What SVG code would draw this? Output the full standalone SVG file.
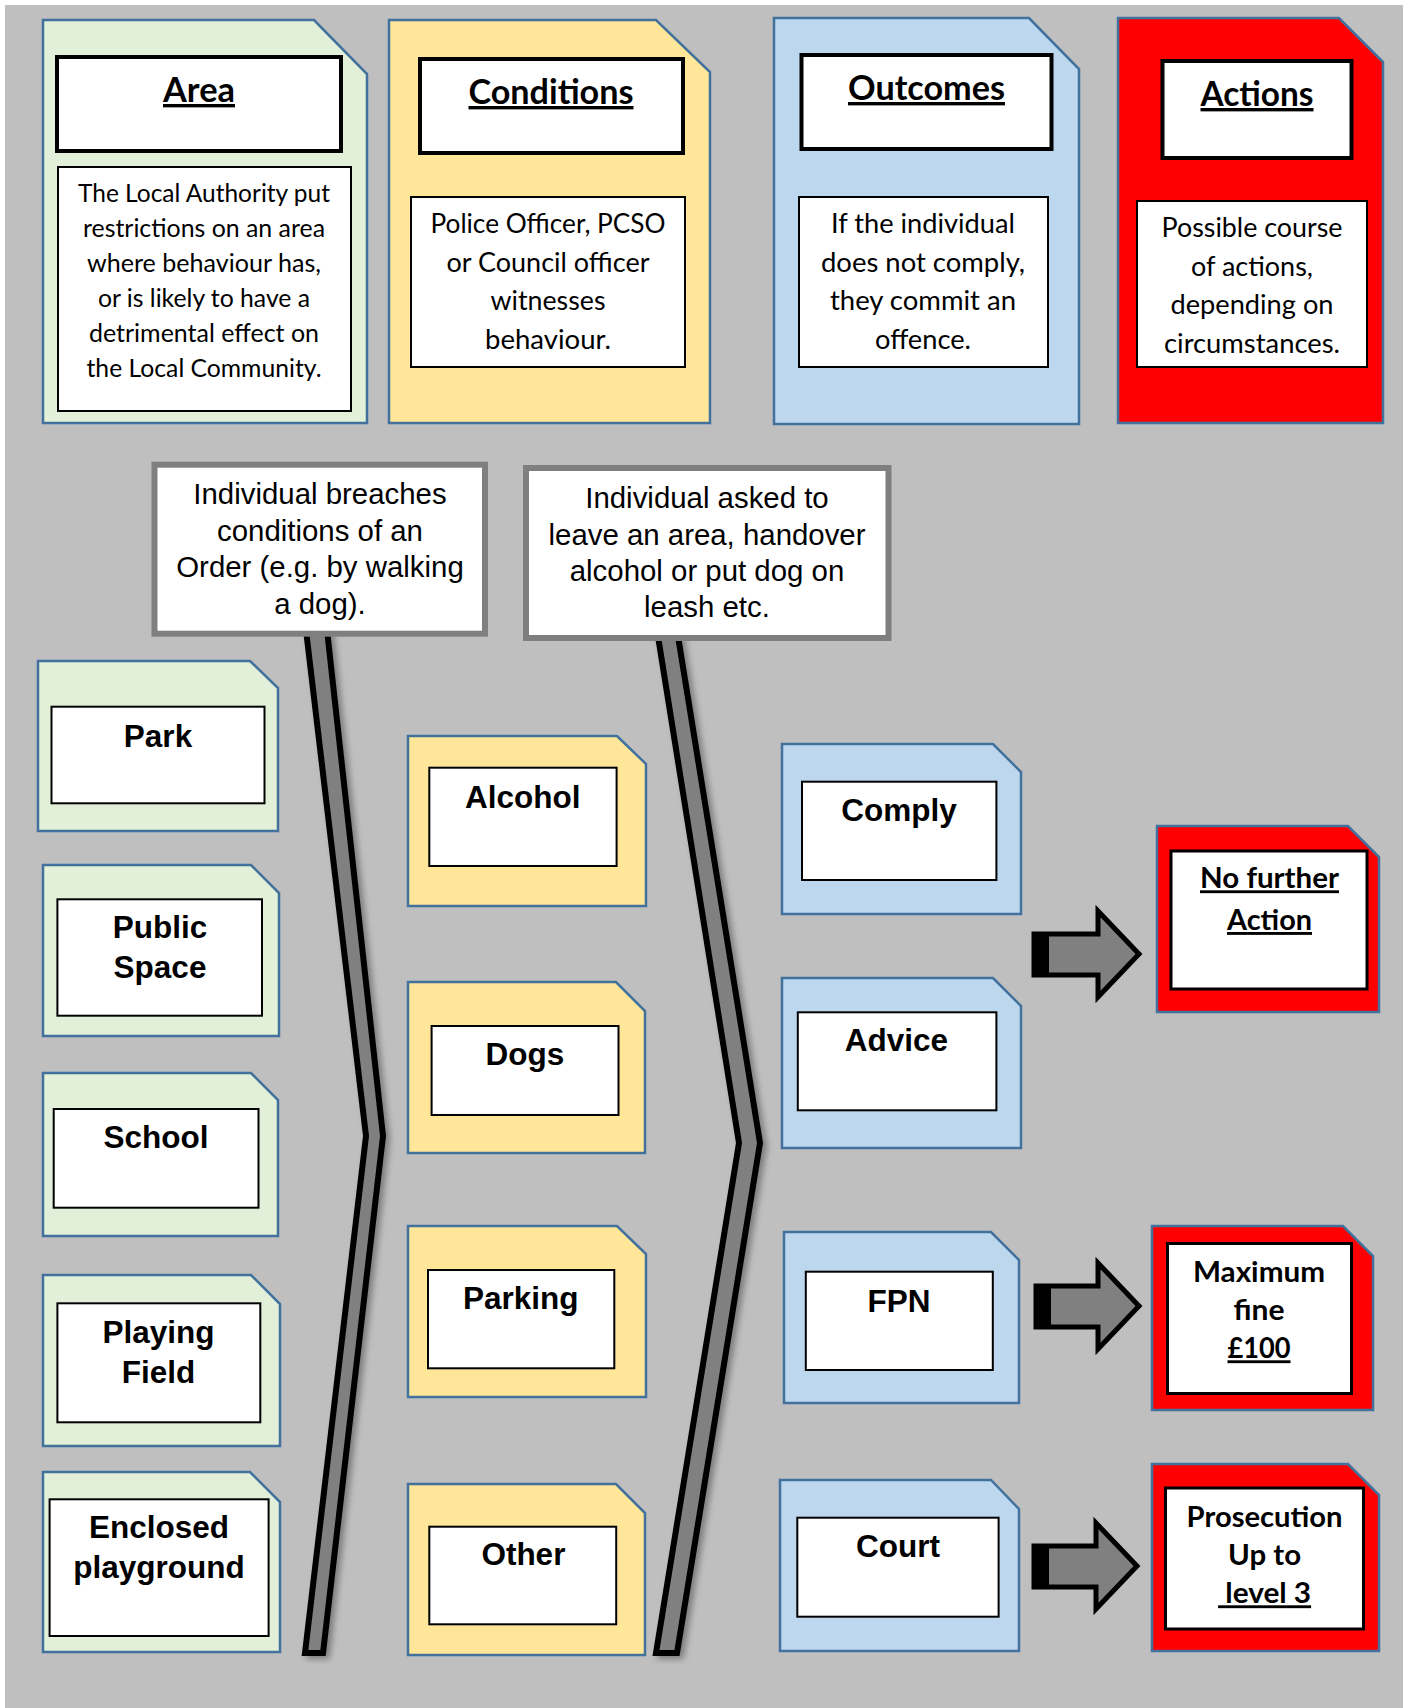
<svg xmlns="http://www.w3.org/2000/svg" width="1403" height="1708" viewBox="0 0 1403 1708">
<style>
.cg{fill:#E2F0D9;stroke:#41719C;stroke-width:2.5}
.cy{fill:#FFE699;stroke:#41719C;stroke-width:2.5}
.cb{fill:#BDD7EE;stroke:#41719C;stroke-width:2.5}
.cr{fill:#FF0000;stroke:#41719C;stroke-width:2.5}
.box{fill:#fff;stroke:#000;stroke-width:2}
.rbox{fill:#fff;stroke:#000;stroke-width:3}
.tbox{fill:#fff;stroke:#000;stroke-width:4}
.gbox{fill:#fff;stroke:#7F7F7F;stroke-width:6}
.lbl{font-family:"Liberation Sans",Arial,sans-serif;font-weight:bold;font-size:31.5px;text-anchor:middle;fill:#000}
.note{font-family:"Liberation Sans",Arial,sans-serif;font-size:29.4px;text-anchor:middle;fill:#000}
.title{font-family:Lato,"Open Sans",sans-serif;font-weight:bold;font-size:33.7px;text-anchor:middle;text-decoration:underline;fill:#000}
.desc{font-family:Lato,"Open Sans",sans-serif;font-size:26.4px;text-anchor:middle;fill:#000}
.descs{font-size:24.1px}
.act{font-family:Lato,"Open Sans",sans-serif;font-weight:bold;font-size:28.7px;text-anchor:middle;fill:#000}
.u{text-decoration:underline}
.chev{fill:#808080;stroke:#000;stroke-width:6;stroke-linejoin:miter;stroke-miterlimit:10}
.arr{fill:#808080;stroke:#000;stroke-width:5;stroke-linejoin:miter;stroke-miterlimit:10}
</style>
<defs>
<filter id="sh" x="-20%" y="-5%" width="150%" height="110%">
<feDropShadow dx="4" dy="3" stdDeviation="3" flood-color="#000" flood-opacity="0.35"/>
</filter>
</defs>
<rect x="0" y="0" width="1403" height="1708" fill="#fff"/>
<rect x="5" y="5" width="1398" height="1703" fill="#BFBFBF"/>

<g id="connectors">
<polygon class="chev" filter="url(#sh)" points="306,630 366,1136 305,1653 323,1653 383,1136 327,630"/>
<polygon class="chev" filter="url(#sh)" points="657,630 739,1143 656,1653 677,1653 760,1143 677,630"/>
<g id="arrow1"><polygon class="arr" points="1034,934 1098,934 1098,911 1139,954 1098,997 1098,975 1034,975"/><rect x="1032" y="932" width="17" height="45" fill="#000"/></g>
<g id="arrow2"><polygon class="arr" points="1036,1286 1098,1286 1098,1263 1139,1306 1098,1349 1098,1327 1036,1327"/><rect x="1034" y="1284" width="17" height="45" fill="#000"/></g>
<g id="arrow3"><polygon class="arr" points="1034,1546 1096,1546 1096,1523 1137,1566 1096,1609 1096,1587 1034,1587"/><rect x="1032" y="1544" width="17" height="45" fill="#000"/></g>
</g>

<g id="area">
<path class="cg" d="M43 20 H314 L367 74 V423 H43 Z"/>
<rect class="tbox" x="57" y="57" width="284" height="94"/>
<text class="title" x="199" y="102" textLength="72" lengthAdjust="spacingAndGlyphs">Area</text>
<rect class="box" x="58" y="167" width="293" height="244"/>
<text class="desc descs" x="204" y="201.5" textLength="252" lengthAdjust="spacingAndGlyphs">The Local Authority put</text>
<text class="desc descs" x="204" y="236.5" textLength="242" lengthAdjust="spacingAndGlyphs">restrictions on an area</text>
<text class="desc descs" x="204" y="271.5" textLength="234" lengthAdjust="spacingAndGlyphs">where behaviour has,</text>
<text class="desc descs" x="204" y="306.5" textLength="212" lengthAdjust="spacingAndGlyphs">or is likely to have a</text>
<text class="desc descs" x="204" y="341.5" textLength="230" lengthAdjust="spacingAndGlyphs">detrimental effect on</text>
<text class="desc descs" x="204" y="376.5" textLength="235" lengthAdjust="spacingAndGlyphs">the Local Community.</text>
</g>

<g id="conditions">
<path class="cy" d="M389 20 H656 L710 72 V423 H389 Z"/>
<rect class="tbox" x="420" y="59" width="263" height="94"/>
<text class="title" x="551" y="104" textLength="165" lengthAdjust="spacingAndGlyphs">Conditions</text>
<rect class="box" x="411" y="197" width="274" height="170"/>
<text class="desc" x="548" y="233" textLength="235" lengthAdjust="spacingAndGlyphs">Police Officer, PCSO</text>
<text class="desc" x="548" y="271.5" textLength="203" lengthAdjust="spacingAndGlyphs">or Council officer</text>
<text class="desc" x="548" y="310" textLength="115" lengthAdjust="spacingAndGlyphs">witnesses</text>
<text class="desc" x="548" y="348.5" textLength="126" lengthAdjust="spacingAndGlyphs">behaviour.</text>
</g>

<g id="outcomes">
<path class="cb" d="M774 18 H1029 L1079 69 V424 H774 Z"/>
<rect class="tbox" x="801.5" y="55" width="250" height="94"/>
<text class="title" x="926.5" y="100" textLength="157" lengthAdjust="spacingAndGlyphs">Outcomes</text>
<rect class="box" x="799" y="197" width="249" height="170"/>
<text class="desc" x="923" y="233" textLength="184" lengthAdjust="spacingAndGlyphs">If the individual</text>
<text class="desc" x="923" y="271.5" textLength="204" lengthAdjust="spacingAndGlyphs">does not comply,</text>
<text class="desc" x="923" y="310" textLength="186" lengthAdjust="spacingAndGlyphs">they commit an</text>
<text class="desc" x="923" y="348.5" textLength="96" lengthAdjust="spacingAndGlyphs">offence.</text>
</g>

<g id="actions">
<path class="cr" d="M1118 18 H1339 L1383 62 V423 H1118 Z"/>
<rect class="tbox" x="1162.5" y="61" width="189" height="97"/>
<text class="title" x="1257" y="106" textLength="113" lengthAdjust="spacingAndGlyphs">Actions</text>
<rect class="box" x="1137" y="201" width="230" height="166" stroke-width="1.5"/>
<text class="desc" x="1252" y="237" textLength="181" lengthAdjust="spacingAndGlyphs">Possible course</text>
<text class="desc" x="1252" y="275.5" textLength="122" lengthAdjust="spacingAndGlyphs">of actions,</text>
<text class="desc" x="1252" y="314" textLength="163" lengthAdjust="spacingAndGlyphs">depending on</text>
<text class="desc" x="1252" y="352.5" textLength="176" lengthAdjust="spacingAndGlyphs">circumstances.</text>
</g>

<g id="breach">
<rect class="gbox" x="154.5" y="464.7" width="330.5" height="169"/>
<text class="note" x="320" y="504">Individual breaches</text>
<text class="note" x="320" y="540.5">conditions of an</text>
<text class="note" x="320" y="577">Order (e.g. by walking</text>
<text class="note" x="320" y="613.5">a dog).</text>
</g>

<g id="asked">
<rect class="gbox" x="526" y="468" width="362.5" height="170"/>
<text class="note" x="707" y="508">Individual asked to</text>
<text class="note" x="707" y="545">leave an area, handover</text>
<text class="note" x="707" y="581">alcohol or put dog on</text>
<text class="note" x="707" y="617">leash etc.</text>
</g>

<g id="park">
<path class="cg" d="M38 661 H250 L278 688 V831 H38 Z"/>
<rect class="box" x="51.5" y="706.7" width="213" height="96.6"/>
<text class="lbl" x="158" y="747">Park</text>
</g>
<g id="public-space">
<path class="cg" d="M43 865 H251 L279 893 V1036 H43 Z"/>
<rect class="box" x="57.4" y="899.3" width="204.6" height="116.4"/>
<text class="lbl" x="160" y="938">Public</text>
<text class="lbl" x="160" y="978">Space</text>
</g>
<g id="school">
<path class="cg" d="M43 1073 H251 L278 1100 V1236 H43 Z"/>
<rect class="box" x="53.7" y="1109" width="204.8" height="98.7"/>
<text class="lbl" x="156" y="1148">School</text>
</g>
<g id="playing-field">
<path class="cg" d="M43 1275 H251 L280 1304 V1446 H43 Z"/>
<rect class="box" x="57.4" y="1303.3" width="202.9" height="119"/>
<text class="lbl" x="158.4" y="1342.5">Playing</text>
<text class="lbl" x="158.4" y="1382.5">Field</text>
</g>
<g id="enclosed-playground">
<path class="cg" d="M43 1472 H250 L280 1502 V1652 H43 Z"/>
<rect class="box" x="49.6" y="1499.3" width="219" height="136.7"/>
<text class="lbl" x="159" y="1538">Enclosed</text>
<text class="lbl" x="159" y="1578">playground</text>
</g>

<g id="alcohol">
<path class="cy" d="M408 736 H617 L646 764 V906 H408 Z"/>
<rect class="box" x="429.3" y="767.7" width="187.3" height="98.3"/>
<text class="lbl" x="522.7" y="807.7">Alcohol</text>
</g>
<g id="dogs">
<path class="cy" d="M408 982 H616 L645 1011 V1153 H408 Z"/>
<rect class="box" x="431.6" y="1026" width="186.9" height="89"/>
<text class="lbl" x="524.8" y="1065">Dogs</text>
</g>
<g id="parking">
<path class="cy" d="M408 1226 H617 L646 1254 V1397 H408 Z"/>
<rect class="box" x="428" y="1270" width="186.3" height="98.3"/>
<text class="lbl" x="520.7" y="1309.3">Parking</text>
</g>
<g id="other">
<path class="cy" d="M408 1484 H616 L645 1513 V1655 H408 Z"/>
<rect class="box" x="429.3" y="1526.7" width="186.9" height="97.6"/>
<text class="lbl" x="523.4" y="1565">Other</text>
</g>

<g id="comply">
<path class="cb" d="M782 744 H993 L1021 772 V914 H782 Z"/>
<rect class="box" x="802" y="781.7" width="194.4" height="98.3"/>
<text class="lbl" x="899" y="821">Comply</text>
</g>
<g id="advice">
<path class="cb" d="M782 978 H993 L1021 1006 V1148 H782 Z"/>
<rect class="box" x="797.8" y="1012.3" width="198.6" height="98"/>
<text class="lbl" x="896.4" y="1051">Advice</text>
</g>
<g id="fpn">
<path class="cb" d="M784 1232 H991 L1019 1260 V1403 H784 Z"/>
<rect class="box" x="805.8" y="1271.7" width="187" height="98.3"/>
<text class="lbl" x="899" y="1311.7">FPN</text>
</g>
<g id="court">
<path class="cb" d="M780 1480 H991 L1019 1509 V1651 H780 Z"/>
<rect class="box" x="797.3" y="1517.7" width="201.3" height="99"/>
<text class="lbl" x="898" y="1557.3">Court</text>
</g>

<g id="no-further-action">
<path class="cr" d="M1157 826 H1348 L1379 857 V1012 H1157 Z"/>
<rect class="rbox" x="1171" y="851" width="196" height="138"/>
<text class="act u" x="1269.5" y="888.3" textLength="139" lengthAdjust="spacingAndGlyphs">No further</text>
<text class="act u" x="1269.5" y="930" textLength="85" lengthAdjust="spacingAndGlyphs">Action</text>
</g>
<g id="maximum-fine">
<path class="cr" d="M1152 1226 H1343 L1373 1256 V1410 H1152 Z"/>
<rect class="rbox" x="1167.5" y="1243.5" width="184" height="150"/>
<text class="act" x="1259" y="1281.7" textLength="132" lengthAdjust="spacingAndGlyphs">Maximum</text>
<text class="act" x="1259" y="1320" textLength="51" lengthAdjust="spacingAndGlyphs">fine</text>
<text class="act u" x="1259" y="1358.3" textLength="63" lengthAdjust="spacingAndGlyphs">£100</text>
</g>
<g id="prosecution">
<path class="cr" d="M1152 1464 H1348 L1379 1495 V1651 H1152 Z"/>
<rect class="rbox" x="1165.5" y="1488" width="198" height="141"/>
<text class="act" x="1264.6" y="1526.7" textLength="156" lengthAdjust="spacingAndGlyphs">Prosecution</text>
<text class="act" x="1264.6" y="1565" textLength="73" lengthAdjust="spacingAndGlyphs">Up to</text>
<text class="act u" x="1264.6" y="1603.3" textLength="93" lengthAdjust="spacingAndGlyphs" xml:space="preserve" style="white-space:pre"> level 3</text>
</g>
</svg>
